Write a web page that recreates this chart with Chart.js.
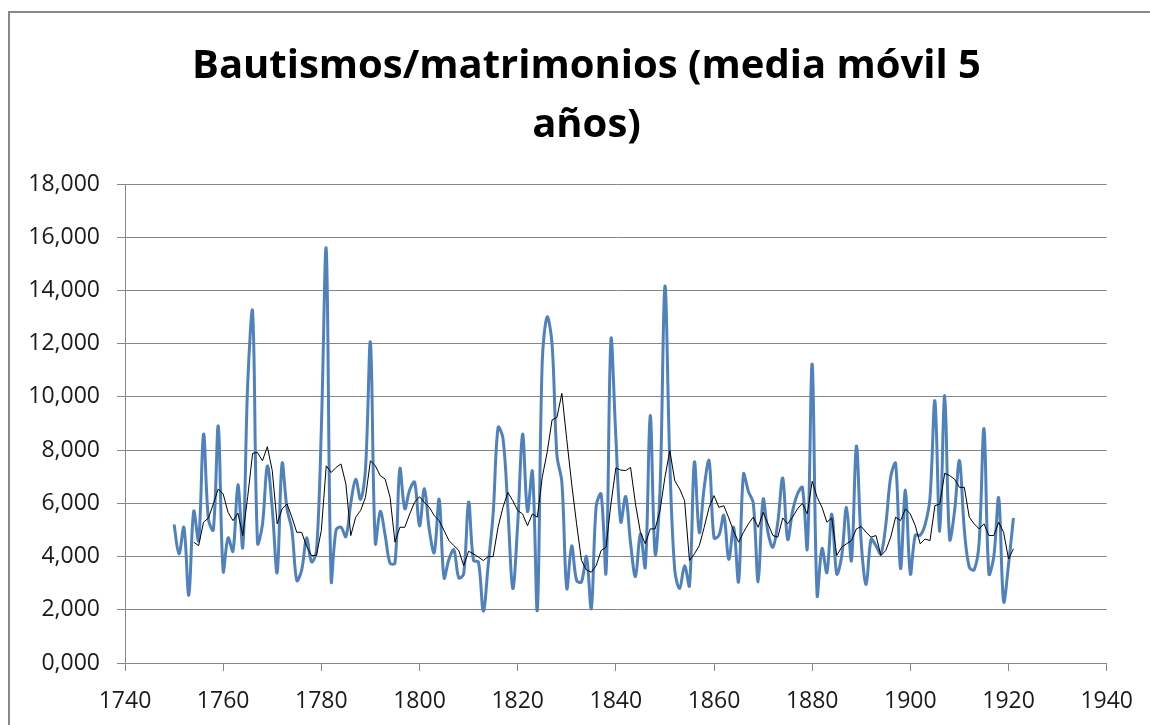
<!DOCTYPE html>
<html>
<head>
<meta charset="utf-8">
<script src="https://cdn.jsdelivr.net/npm/chart.js@4/dist/chart.umd.min.js"></script>
<style>
  html, body { margin: 0; padding: 0; background: #fff; overflow: hidden; }
  #wrap { position: relative; width: 1150px; height: 725px; }
  #frame { position: absolute; left: 8px; top: 11px; width: 1300px; height: 900px; border: 2px solid #878787; pointer-events: none; }
</style>
</head>
<body>
<div id="wrap">
  <canvas id="chart" width="1150" height="725"></canvas>
  <div id="frame"></div>
</div>
<script>
// bautismos / matrimonios, un valor por año (1750-1921)
const firstYear = 1750;
const ratio = [
  5200, 4100, 5100, 2550, 5700, 4600, 8600, 5400, 5000, 8900,   // 1750
  3450, 4700, 4200, 6700, 4350, 10500, 13200, 4500, 5200, 7400, // 1760
  5800, 3400, 7500, 5800, 5000, 3100, 3500, 4700, 3800, 4200,   // 1770
  8800, 15540, 3100, 5000, 5100, 4750, 6000, 6900, 6150, 7300,  // 1780
  12040, 4500, 5700, 4800, 3750, 3750, 7300, 5800, 6500, 6800,  // 1790
  5150, 6550, 5000, 4150, 6150, 3200, 3900, 4250, 3200, 3350,   // 1800
  6050, 3850, 3800, 1950, 3700, 5600, 8850, 8450, 5800, 2800,   // 1810
  5200, 8600, 5700, 7200, 2000, 11300, 13000, 12000, 7800, 6800, // 1820
  2800, 4400, 3100, 3050, 4000, 2050, 5900, 6350, 3400, 12160,  // 1830
  8500, 5300, 6250, 4500, 3250, 4850, 3600, 9300, 4100, 6500,   // 1840
  14160, 7500, 3500, 2800, 3650, 2900, 7550, 4900, 6600, 7600,  // 1850
  4700, 4800, 5550, 3900, 5100, 3050, 7100, 6450, 6000, 3050,   // 1860
  6150, 4900, 4350, 5300, 6950, 4650, 5700, 6350, 6600, 4300,   // 1870
  11230, 2550, 4300, 3400, 5600, 3350, 4000, 5850, 3850, 8150,  // 1880
  4500, 2950, 4650, 4400, 4100, 5200, 7000, 7500, 3550, 6500,   // 1890
  3350, 4800, 4800, 5200, 6200, 9850, 4950, 10050, 4650, 5700,  // 1900
  7600, 5000, 3600, 3500, 4500, 8800, 3350, 4000, 6200, 2300,   // 1910
  3700, 5450                                                    // 1920
];

// media móvil 5 años (empieza en 1754)
const avgFirstYear = 1754;
const movingAvg = [
  4540, 4410, 5290, 5450, 5980, 6540,                           // 1754
  6350, 5660, 5350, 5630, 4790, 6250, 7880, 7910, 7600, 8130,   // 1760
  7230, 5230, 5790, 5980, 5480, 4910, 4910, 4380, 4040, 4040,   // 1770
  4980, 7410, 7160, 7350, 7480, 6730, 4790, 5480, 5730, 6230,   // 1780
  7600, 7410, 7040, 6910, 6230, 4540, 5100, 5100, 5600, 6040,   // 1790
  6250, 6040, 5850, 5540, 5350, 4980, 4600, 4410, 4230, 3660,   // 1800
  4200, 4100, 3980, 3850, 4000, 4000, 5100, 5850, 6410, 6100,   // 1810
  5730, 5600, 5160, 5600, 5480, 6980, 7910, 9130, 9230, 10130,  // 1820
  8400, 6730, 5230, 3850, 3500, 3410, 3660, 4230, 4350, 5980,   // 1830
  7330, 7250, 7230, 7350, 5980, 4910, 4480, 5040, 5040, 5730,   // 1840
  6980, 7980, 6850, 6540, 6100, 3850, 4100, 4410, 5100, 5850,   // 1850
  6290, 5850, 5910, 5450, 4950, 4540, 4910, 5230, 5480, 5100,   // 1860
  5660, 5230, 4790, 4730, 5450, 5230, 5480, 5790, 6000, 5600,   // 1870
  6830, 6230, 5850, 5290, 5450, 4040, 4350, 4480, 4600, 5040,   // 1880
  5130, 4910, 4730, 4790, 4040, 4230, 4730, 5480, 5350, 5790,   // 1890
  5600, 5160, 4480, 4660, 4600, 5910, 5980, 7130, 7040, 6910,   // 1900
  6600, 6600, 5480, 5230, 5040, 5230, 4790, 4790, 5290, 4910,   // 1910
  3910, 4290                                                    // 1920
];

const xTickLabels = ['1740', '1760', '1780', '1800', '1820', '1840', '1860', '1880', '1900', '1920', '1940'];
const yTickLabels = ['0,000', '2,000', '4,000', '6,000', '8,000', '10,000', '12,000', '14,000', '16,000', '18,000'];

const titleLines = ['Bautismos/matrimonios (media móvil 5', 'años)'];

const toPoints = (start, vals) => vals.map((v, i) => ({x: start + i, y: v}));

const gridColor = '#868686';
const tickFont = {family: "'Open Sans', sans-serif", size: 23};

// el título queda algo a la derecha del centro del lienzo
const titleShift = {
    id: 'titleShift',
    afterLayout(chart) {
        const t = chart.titleBlock;
        if (t) { t.left += 33; t.right += 33; }
    }
};

new Chart(document.getElementById('chart'), {
    type: 'line',
    data: {
        datasets: [{
            label: 'media móvil',
            data: toPoints(avgFirstYear, movingAvg),
            borderColor: '#000000',
            borderWidth: 1,
            pointRadius: 0,
            tension: 0
        }, {
            label: 'bautismos/matrimonios',
            data: toPoints(firstYear, ratio),
            borderColor: '#4F81BD',
            borderWidth: 3,
            pointRadius: 0,
            tension: 0.35
        }]
    },
    options: {
        responsive: false,
        animation: false,
        layout: {padding: {left: 0, right: 43, top: 0, bottom: 0}},
        plugins: {
            legend: {display: false},
            tooltip: {enabled: false},
            title: {
                display: true,
                text: titleLines,
                color: '#000',
                font: {family: "'Open Sans', sans-serif", size: 40, weight: 'bold', lineHeight: 1.475},
                padding: {top: 37, bottom: 29}
            }
        },
        scales: {
            x: {
                type: 'linear',
                min: 1740,
                max: 1940,
                ticks: {
                    stepSize: 20,
                    padding: 17,
                    color: '#1a1a1a',
                    font: tickFont,
                    maxRotation: 0,
                    callback: (v, i) => xTickLabels[i]
                },
                grid: {drawOnChartArea: false, tickLength: 8, color: gridColor},
                border: {color: gridColor},
                afterFit: s => { s.height = 62; }
            },
            y: {
                min: 0,
                max: 18000,
                ticks: {
                    stepSize: 2000,
                    padding: 17,
                    color: '#1a1a1a',
                    font: tickFont,
                    callback: (v, i) => yTickLabels[i]
                },
                grid: {tickLength: 8, color: gridColor},
                border: {color: gridColor},
                afterFit: s => { s.width = 125; }
            }
        }
    },
    plugins: [titleShift]
});
</script>
</body>
</html>
